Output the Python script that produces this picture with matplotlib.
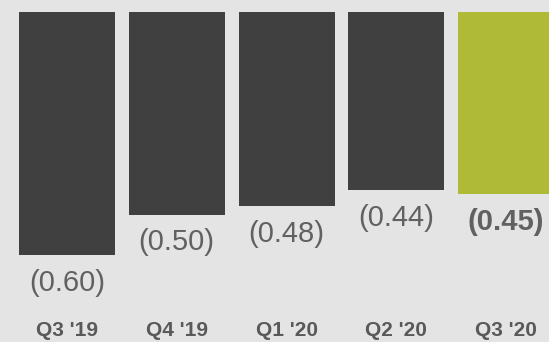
import matplotlib
matplotlib.use("Agg")
import matplotlib.pyplot as plt

# quarterly loss per share, shown as bars hanging from the top
quarters = ["Q3 '19", "Q4 '19", "Q1 '20", "Q2 '20", "Q3 '20"]
values = [0.60, 0.50, 0.48, 0.44, 0.45]
labels = ["(0.60)", "(0.50)", "(0.48)", "(0.44)", "(0.45)"]

BG = "#e4e4e4"
DARK = "#404040"
GREEN = "#afba37"
TEXT = "#616161"

plt.rcParams["font.family"] = ["Liberation Sans", "DejaVu Sans"]

W, H, DPI = 549, 342, 100
fig = plt.figure(figsize=(W / DPI, H / DPI), dpi=DPI, facecolor=BG)
ax = fig.add_axes([0, 0, 1, 1], facecolor=BG)

step_px = 109.75
px_per_unit = 406.0
top_px = 11.5
x = list(range(len(quarters)))
colors = [DARK] * (len(quarters) - 1) + [GREEN]

ax.bar(x, [-v for v in values], width=96 / step_px, color=colors, bottom=0)

left = -67 / step_px
ax.set_xlim(left, left + W / step_px)
ytop = top_px / px_per_unit
ax.set_ylim(ytop - H / px_per_unit, ytop)

for i, (v, lab) in enumerate(zip(values, labels)):
    last = i == len(values) - 1
    ax.annotate(lab, (i, -v), xytext=(0, -20), textcoords="offset points",
                ha="center", va="center", fontsize=21, color=TEXT,
                fontweight="bold" if last else "normal")

# quarter names sit right at the bottom edge
trans = ax.get_xaxis_transform()
for i, q in enumerate(quarters):
    ax.text(i, 1.5 / H, q, transform=trans, ha="center", va="bottom",
            fontsize=15, fontweight="bold", color="#595959")

ax.axis("off")
fig.savefig("out.png", dpi=DPI, facecolor=BG)
